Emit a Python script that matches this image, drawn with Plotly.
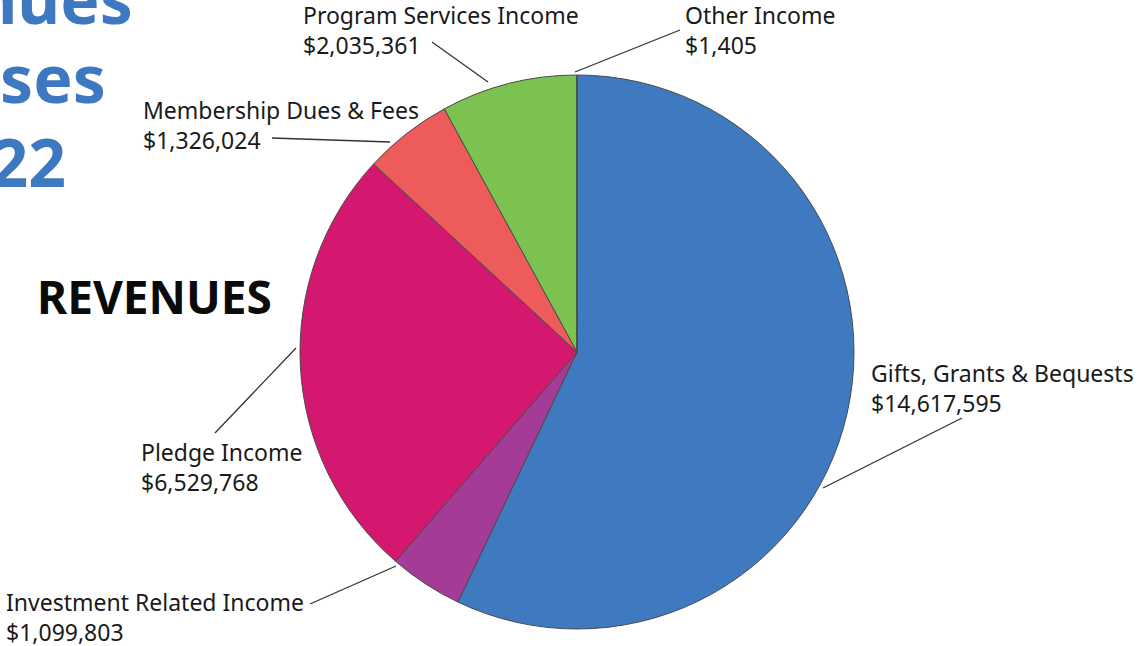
import plotly.graph_objects as go

W, H = 1139, 646

categories = ["Gifts, Grants & Bequests", "Investment Related Income", "Pledge Income",
              "Membership Dues & Fees", "Program Services Income", "Other Income"]
values = [14617595, 1099803, 6529768, 1326024, 2035361, 1405]
colors = ["#3f79bf", "#a33b97", "#d4176f", "#ee5b5b", "#7bc250", "#17a9c4"]

# label placement (pixels) and leader lines (pixels)
label_pos = {
    "Gifts, Grants & Bequests": (869, 388),
    "Investment Related Income": (4, 617),
    "Pledge Income": (139, 467),
    "Membership Dues & Fees": (141, 125),
    "Program Services Income": (301, 30),
    "Other Income": (683, 30),
}
leaders = {
    "Gifts, Grants & Bequests": ((962, 418), (823, 488)),
    "Investment Related Income": ((310, 604), (396, 566)),
    "Pledge Income": ((215, 433), (296, 348)),
    "Membership Dues & Fees": ((272, 138), (390, 142)),
    "Program Services Income": ((432, 42), (488, 82)),
    "Other Income": ((680, 30), (575, 72)),
}

def px(x):
    return x / W

def py(y):
    return 1 - y / H

FONT = "Noto Sans"

fig = go.Figure(go.Pie(
    labels=categories,
    values=values,
    sort=False,
    direction="clockwise",
    rotation=0,
    marker=dict(colors=colors, line=dict(color="#4a4a4a", width=1)),
    textinfo="none",
    hoverinfo="label+value",
    showlegend=False,
    domain=dict(x=[px(577 - 277), px(577 + 277)], y=[py(629), py(75)]),
))

annotations = []
for cat, val in zip(categories, values):
    x, y = label_pos[cat]
    annotations.append(dict(
        x=px(x), y=py(y), xref="paper", yref="paper",
        xanchor="left", yanchor="middle", align="left", showarrow=False,
        text=f"{cat}<br>${val:,}",
        font=dict(family=FONT, size=23, color="#1a1a1a"),
    ))

shapes = []
for cat in categories:
    (x0, y0), (x1, y1) = leaders[cat]
    shapes.append(dict(type="line", xref="paper", yref="paper",
                       x0=px(x0), y0=py(y0), x1=px(x1), y1=py(y1),
                       line=dict(color="#333333", width=1.3)))

annotations.append(dict(x=px(35), y=py(296), xref="paper", yref="paper",
                        xanchor="left", yanchor="middle", showarrow=False,
                        text="<b>REVENUES</b>",
                        font=dict(family=FONT, size=46, color="#0a0a0a")))

title_lines = [("Revenues", 135, -2), ("Expenses", 108, 77), ("2022", 68, 161)]
for txt, xr, yc in title_lines:
    annotations.append(dict(x=px(xr), y=py(yc), xref="paper", yref="paper",
                            xanchor="right", yanchor="middle", showarrow=False,
                            text=f"<b>{txt}</b>",
                            font=dict(family=FONT, size=66, color="#3d78c0")))

fig.update_layout(
    width=W, height=H,
    margin=dict(l=0, r=0, t=0, b=0),
    paper_bgcolor="white",
    plot_bgcolor="white",
    annotations=annotations,
    shapes=shapes,
)

fig.write_html("out.html", config={"displayModeBar": False},
               post_script="document.body.style.margin='0';")
